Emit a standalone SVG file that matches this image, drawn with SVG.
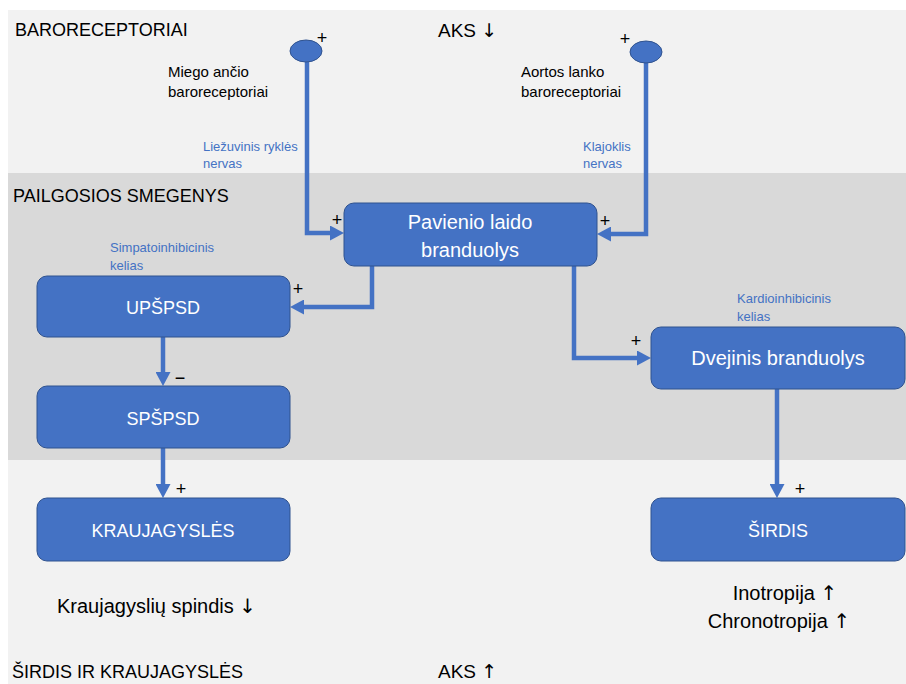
<svg xmlns="http://www.w3.org/2000/svg" width="906" height="684" viewBox="0 0 906 684">
<defs>
<marker id="ah" markerUnits="userSpaceOnUse" markerWidth="15" markerHeight="15" refX="0" refY="7.5" orient="auto">
<path d="M0,0 L14,7.5 L0,15 z" fill="#4472C4"/>
</marker>
<style>
.box{fill:#4472C4;stroke:#2F528F;stroke-width:1}
.bt{font-family:"Liberation Sans",Arial,sans-serif;fill:#ffffff;text-anchor:middle}
.t{font-family:"Liberation Sans",Arial,sans-serif;fill:#000000}
.ar{font-family:"DejaVu Sans",sans-serif}
.bl{font-family:"Liberation Sans",Arial,sans-serif;fill:#4472C4;font-size:13px}
.c{fill:none;stroke:#4472C4;stroke-width:4.5}
.p{font-family:"Liberation Sans",Arial,sans-serif;fill:#000;font-size:18px;text-anchor:middle}
</style>
</defs>
<rect x="0" y="0" width="906" height="684" fill="#ffffff"/>
<rect x="8" y="10" width="898" height="674" fill="#f2f2f2"/>
<rect x="8" y="173" width="898" height="287" fill="#d9d9d9"/>

<g id="labels">
<text class="t" x="15" y="36" font-size="18">BARORECEPTORIAI</text>
<text class="t" x="438" y="37" font-size="19">AKS <tspan class="ar">↓</tspan></text>
<text class="t" x="13" y="202" font-size="18">PAILGOSIOS SMEGENYS</text>
<text class="t" x="12" y="678" font-size="18">ŠIRDIS IR KRAUJAGYSLĖS</text>
<text class="t" x="438" y="678" font-size="19">AKS <tspan class="ar">↑</tspan></text>
<text class="t" x="168" y="77" font-size="15">Miego ančio</text>
<text class="t" x="168" y="97" font-size="15">baroreceptoriai</text>
<text class="t" x="521" y="77" font-size="15">Aortos lanko</text>
<text class="t" x="521" y="97" font-size="15">baroreceptoriai</text>
<text class="bl" x="203" y="151">Liežuvinis ryklės</text>
<text class="bl" x="203" y="168">nervas</text>
<text class="bl" x="583" y="151">Klajoklis</text>
<text class="bl" x="583" y="168">nervas</text>
<text class="bl" x="110" y="252">Simpatoinhibicinis</text>
<text class="bl" x="110" y="270">kelias</text>
<text class="bl" x="737" y="303">Kardioinhibicinis</text>
<text class="bl" x="737" y="321">kelias</text>
<text class="t" x="57" y="613" font-size="20">Kraujagyslių spindis <tspan class="ar">↓</tspan></text>
<text class="t" x="785" y="600" font-size="20" text-anchor="middle">Inotropija <tspan class="ar">↑</tspan></text>
<text class="t" x="779" y="628" font-size="20" text-anchor="middle">Chronotropija <tspan class="ar">↑</tspan></text>
</g>

<g id="connectors">
<path class="c" d="M307,62 V233 H330" marker-end="url(#ah)"/>
<path class="c" d="M646,62 V234 H611" marker-end="url(#ah)"/>
<path class="c" d="M372,266 V307 H304" marker-end="url(#ah)"/>
<path class="c" d="M574,266 V358 H637" marker-end="url(#ah)"/>
<path class="c" d="M163,337 V372" marker-end="url(#ah)"/>
<path class="c" d="M163,448 V484" marker-end="url(#ah)"/>
<path class="c" d="M777,389 V484" marker-end="url(#ah)"/>
<text class="p" x="322" y="44">+</text>
<text class="p" x="625" y="45">+</text>
<text class="p" x="337" y="226">+</text>
<text class="p" x="605" y="227">+</text>
<text class="p" x="298" y="295">+</text>
<text class="p" x="180" y="384">−</text>
<text class="p" x="181" y="495">+</text>
<text class="p" x="636" y="347">+</text>
<text class="p" x="800" y="495">+</text>
</g>

<g id="miego"><ellipse cx="306" cy="51" rx="16" ry="11" class="box"/></g>
<g id="aortos"><ellipse cx="646" cy="52" rx="16" ry="11" class="box"/></g>

<g id="pavienio">
<rect class="box" x="344" y="203" width="253" height="63" rx="10"/>
<text class="bt" x="470" y="229" font-size="20">Pavienio laido</text>
<text class="bt" x="470" y="257" font-size="20">branduolys</text>
</g>
<g id="upspsd">
<rect class="box" x="37" y="276" width="253" height="61" rx="10"/>
<text class="bt" x="163" y="314" font-size="18">UPŠPSD</text>
</g>
<g id="spspsd">
<rect class="box" x="37" y="386" width="253" height="62" rx="10"/>
<text class="bt" x="163" y="425" font-size="18">SPŠPSD</text>
</g>
<g id="kraujagysles">
<rect class="box" x="37" y="498" width="253" height="63" rx="10"/>
<text class="bt" x="163" y="537" font-size="18">KRAUJAGYSLĖS</text>
</g>
<g id="dvejinis">
<rect class="box" x="651" y="327" width="254" height="62" rx="10"/>
<text class="bt" x="778" y="365" font-size="20">Dvejinis branduolys</text>
</g>
<g id="sirdis">
<rect class="box" x="651" y="498" width="254" height="63" rx="10"/>
<text class="bt" x="778" y="537" font-size="18">ŠIRDIS</text>
</g>
</svg>
